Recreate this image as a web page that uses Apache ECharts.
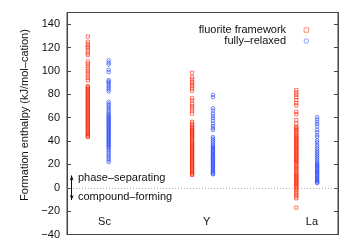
<!DOCTYPE html>
<html><head><meta charset="utf-8">
<script src="https://cdn.jsdelivr.net/npm/echarts@6/dist/echarts.min.js"></script>
<style>html,body{margin:0;padding:0;background:#fff}#c{width:350px;height:245px}</style>
</head><body><div id="c"></div>
<script>
const categories = ['Sc', 'Y', 'La'];
const seriesNames = ['fluorite framework', 'fully\u2013relaxed'];
const yTicks = [-40, -20, 0, 20, 40, 60, 80, 100, 120, 140];
const labelTexts = ['phase\u2013separating', 'compound\u2013forming'];

const scRed = [129.5,125,123,121,119.5,117.5,115,113.5,108,106,104,102,100,98,96,94,92,87,86,85,84,83,82,81,80,79,78,77,76,75,74,73,72,71,70,69,68,67,66,65,64,63,62,61,60,59,58,57,56,55,54,53,52,51,50,49,48,47,46,45,44,43.5];
const scBlue = [109,107,105.5,101,99,92,91,90,88.5,87,85.5,84,82.5,73.5,72,70.5,69,67.5,66,64.5,63,62,61,60,59,58,57,56,55,54,53,52,51,50,49,48,47,46,45,44,43,42,41,40,39,38,37,36,35,34,32.5,31,29.5,28,26.5,25,23.5,22];
const yRed = [98.5,94.5,92.5,90.5,88.5,87,85,83,76.5,74.5,72,70,68,66,63.5,56.5,55,53.5,52,51,50,49,48,47,46,45,44,43,42,41,39.5,38.5,37.5,36.5,35.5,34.5,33.5,32.5,31.5,30.5,29.5,28.5,27.5,26.5,25.5,24.5,23.5,22.5,21.5,20.5,19.5,18.5,17.5,16.5,15.5,14.5,13.5,12.5,11.5,11];
const yBlue = [79.5,77.5,68,66,63.5,61.5,59.5,57.5,55,53,51,49.5,43.5,42,40.5,39,37.5,36,35,34,33,32,31,30,29,28,27,26,25,24,23,22,21,20,19,18,17,16,15,14,13,12,11.5];
const laRed = [83.5,81.5,79.5,77.5,75,72.5,70.5,65,63,58,55,52,51,50,49,47.5,46.5,45,44,43,42,41,40,39,38,37,36,35,34,33,32,31,30,29,28,27,26,25,24,23,22,21,19.5,18,17,16,14.5,13,12,11,10,9,8,7,6,5,4,3,2,1,0,-1.5,-3,-4.5,-6,-7.5,-9,-17];
const laBlue = [60.5,58.5,56.5,54.5,52.5,49.5,47.5,45,43.5,40.5,39,37,35.5,33.5,32,30.5,29,27.5,26,24.5,23,21.5,20.5,19.5,18.5,17.5,16.5,15.5,14.5,13.5,12.5,11.5,10.5,9.5,8.5,7.5,6.5,5.5,4.5,4];

const redCols = [scRed, yRed, laRed];
const blueCols = [scBlue, yBlue, laBlue];
const RED = '#ff2200', BLUE = '#1a3cff';
const FONT = 'Liberation Sans, Arial, Helvetica, sans-serif';

function pts(cols, off) {
  const out = [];
  cols.forEach((arr, i) => arr.forEach(v => out.push([i + 1 + off, v])));
  return out;
}
const labelPos = [1.16, 2.14, 3.15];

const chart = echarts.init(document.getElementById('c'), null, {renderer: 'canvas'});
chart.setOption({
  animation: false,
  textStyle: {fontFamily: FONT},
  grid: {left: 67, right: 12, top: 12.5, bottom: 10.5, show: true, borderColor: '#444', borderWidth: 1},
  legend: {
    orient: 'vertical', right: 41, top: 24.5, align: 'right', padding: 0,
    itemWidth: 4.5, itemHeight: 4.5, itemGap: 0,
    textStyle: {fontSize: 11, color: '#111', fontFamily: FONT, lineHeight: 11, padding: [0, 13, 0, 0]},
    data: [
      {name: seriesNames[0], icon: 'rect', itemStyle: {color: 'transparent', borderColor: RED, borderWidth: 0.8, opacity: 0.6}},
      {name: seriesNames[1], icon: 'circle', itemStyle: {color: 'transparent', borderColor: BLUE, borderWidth: 0.8, opacity: 0.6}}
    ]
  },
  xAxis: {
    type: 'value', min: 0.8, max: 3.4,
    axisLine: {show: true, onZero: false, lineStyle: {color: '#444'}},
    axisTick: {show: false},
    splitLine: {show: false},
    axisLabel: {
      inside: true, margin: 7, fontSize: 11, color: '#111',
      customValues: labelPos,
      formatter: v => { const k = labelPos.findIndex(p => Math.abs(p - v) < 1e-6); return k >= 0 ? categories[k] : ''; }
    }
  },
  yAxis: [{
    type: 'value', min: -40, max: 150, interval: 20,
    name: 'Formation enthalpy (kJ/mol\u2013cation)', nameLocation: 'middle', nameGap: 37,
    nameTextStyle: {fontSize: 11, color: '#111', padding: [0, 0, 0, 17]},
    axisLine: {show: true, onZero: false, lineStyle: {color: '#444'}},
    axisTick: {show: true, inside: true, length: 4, lineStyle: {color: '#444'}, customValues: yTicks},
    splitLine: {show: false},
    axisLabel: {fontSize: 11, color: '#111', margin: 7, customValues: yTicks,
      formatter: v => (v < 0 ? '\u2212' + Math.abs(v) : String(v))}
  }, {
    type: 'value', min: -40, max: 150, interval: 20, position: 'right',
    axisLine: {show: true, onZero: false, lineStyle: {color: '#444'}},
    axisTick: {show: true, inside: true, length: 4, lineStyle: {color: '#444'}, customValues: yTicks},
    splitLine: {show: false},
    axisLabel: {show: false}
  }],
  series: [{
    name: seriesNames[0], type: 'scatter', symbol: 'rect', symbolSize: 3.2, z: 3,
    itemStyle: {color: 'transparent', borderColor: RED, borderWidth: 0.8, opacity: 0.75},
    data: pts(redCols, 0),
    markLine: {
      silent: true, symbol: ['none', 'none'], label: {show: false}, z: 1,
      lineStyle: {color: '#999', type: [1, 2], width: 0.8, opacity: 1},
      emphasis: {disabled: true},
      data: [{yAxis: 0}]
    }
  }, {
    name: seriesNames[1], type: 'scatter', symbol: 'circle', symbolSize: 3.5, z: 3,
    itemStyle: {color: 'transparent', borderColor: BLUE, borderWidth: 0.8, opacity: 0.75},
    data: pts(blueCols, 0.2),
    markLine: {
      silent: true, symbol: ['arrow', 'arrow'], symbolSize: [3, 5], label: {show: false},
      lineStyle: {color: '#111', type: 'solid', width: 1, opacity: 1},
      data: [[{coord: [0.845, 10.5]}, {coord: [0.845, -10.5]}]]
    }
  }],
  graphic: [
    {type: 'text', left: 78, top: 172, style: {text: labelTexts[0], fill: '#111', font: '11px ' + FONT}},
    {type: 'text', left: 78, top: 191, style: {text: labelTexts[1], fill: '#111', font: '11px ' + FONT}}
  ]
});
</script></body></html>
